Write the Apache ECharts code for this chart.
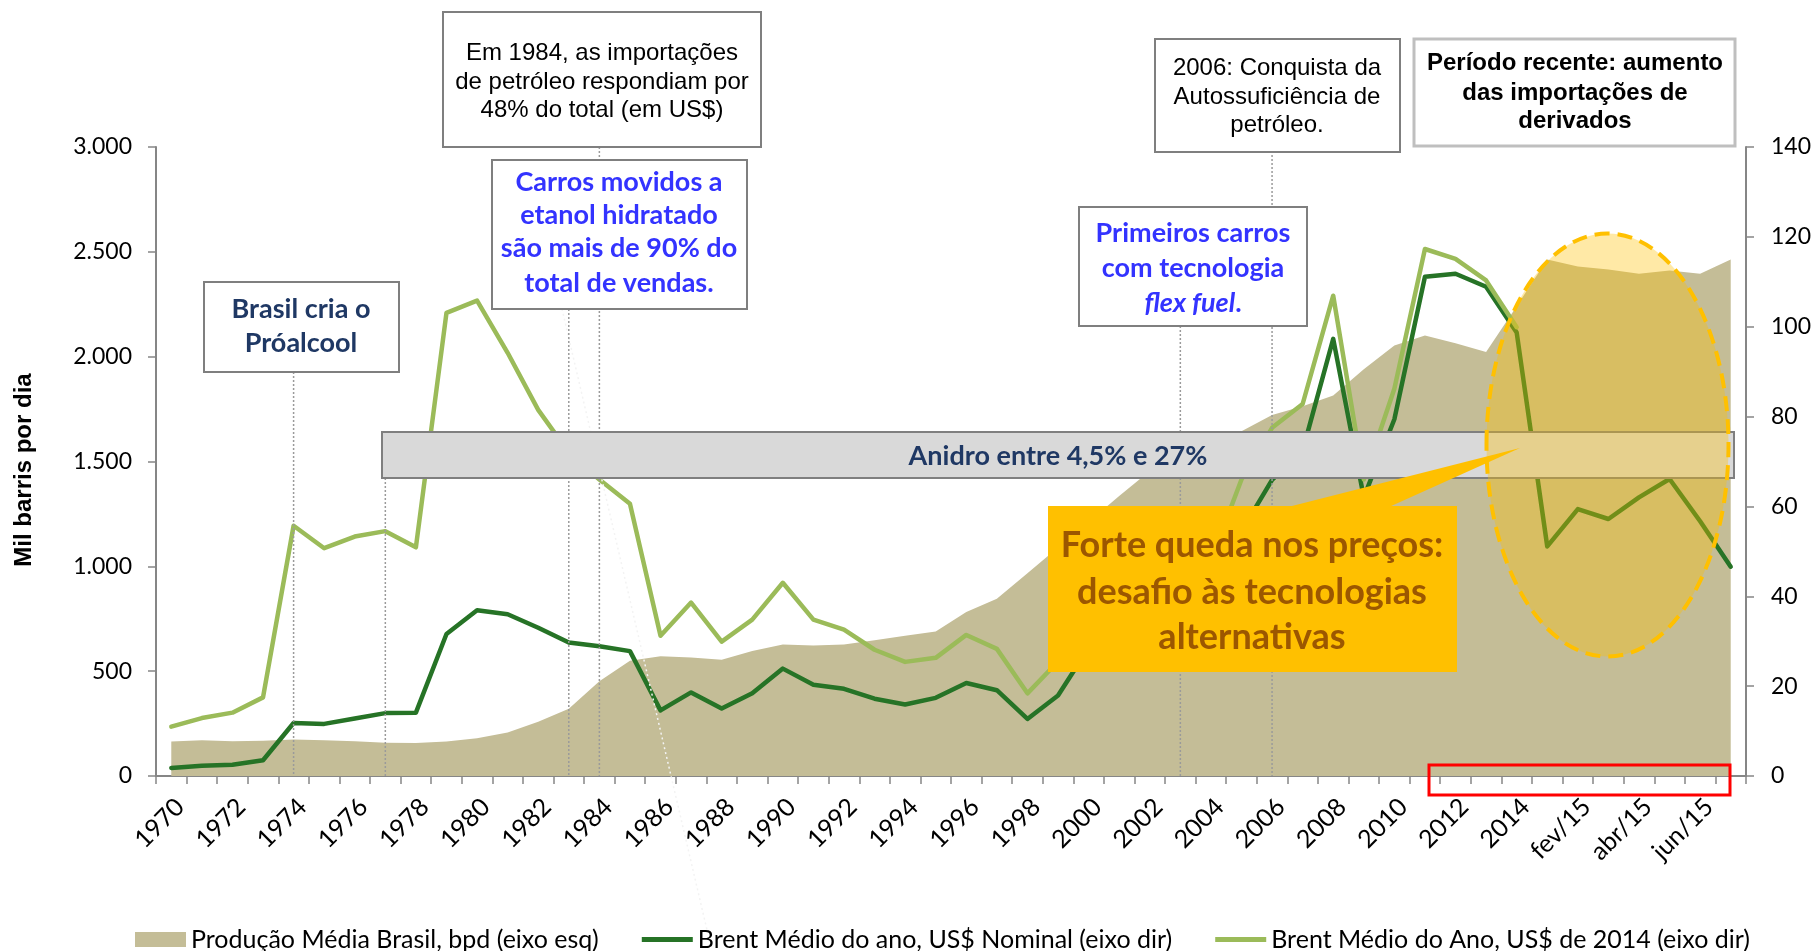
<!DOCTYPE html>
<html>
<head>
<meta charset="utf-8">
<script src="https://cdn.jsdelivr.net/npm/echarts@6/dist/echarts.min.js"></script>
<style>
  body { margin: 0; background: #fff; }
  #main { width: 1816px; height: 951px; }
</style>
</head>
<body>
<div id="main"></div>
<script>
// categories: years, then months of 2015
const categories = [
  '1970','1971','1972','1973','1974','1975','1976','1977','1978','1979',
  '1980','1981','1982','1983','1984','1985','1986','1987','1988','1989',
  '1990','1991','1992','1993','1994','1995','1996','1997','1998','1999',
  '2000','2001','2002','2003','2004','2005','2006','2007','2008','2009',
  '2010','2011','2012','2013','2014',
  'jan/15','fev/15','mar/15','abr/15','mai/15','jun/15','jul/15'
];

// Produção média Brasil, mil bpd (eixo esq)
const producao = [
  164, 170, 166, 168, 174, 170, 166, 159, 157, 164,
  180, 207, 259, 321, 452, 550, 571, 565, 555, 596,
  627, 623, 627, 648, 669, 689, 782, 845, 967, 1090,
  1212, 1335, 1455, 1540, 1540, 1644, 1722, 1764, 1815, 1940,
  2053, 2101, 2064, 2022, 2240,
  2463, 2430, 2416, 2395, 2411, 2395, 2463
];

// Brent médio, US$ nominal (eixo dir)
const brentNominal = [
  1.8, 2.3, 2.5, 3.5, 11.8, 11.6, 12.8, 14.0, 14.1, 31.6,
  36.9, 36.0, 33.0, 29.7, 28.9, 27.8, 14.6, 18.6, 15.0, 18.4,
  23.9, 20.3, 19.4, 17.2, 15.9, 17.4, 20.7, 19.1, 12.7, 17.9,
  28.5, 24.4, 25.0, 28.8, 38.3, 54.5, 65.9, 72.4, 97.3, 62.0,
  79.4, 111.1, 111.8, 108.9, 98.7,
  51.1, 59.4, 57.2, 62.0, 66.1, 56.7, 46.6
];

// Brent médio, US$ de 2014 (eixo dir)
const brent2014 = [
  11.0, 12.9, 14.1, 17.5, 55.7, 50.7, 53.3, 54.5, 50.9, 103.1,
  105.8, 94.2, 81.5, 72.0, 66.0, 60.6, 31.2, 38.6, 29.9, 34.8,
  43.0, 34.8, 32.6, 28.1, 25.4, 26.3, 31.4, 28.3, 18.4, 25.5,
  39.0, 33.0, 33.5, 37.5, 48.0, 66.0, 77.5, 82.8, 106.9, 66.0,
  86.2, 117.3, 115.1, 110.3, 99.9,
  null, null, null, null, null, null, null
];

const ARIAL = 'Liberation Sans';
const CALIBRI = 'Lato';
const AXIS_COLOR = '#868686';
const LINE_ICON = 'path://M0,0 L100,0 L100,10 L0,10 Z';

const chart = echarts.init(document.getElementById('main'));

function fmtThousands(v) {
  if (v < 1000) return String(v);
  return Math.floor(v / 1000) + '.' + String(v % 1000).padStart(3, '0');
}

chart.setOption({
  animation: false,
  backgroundColor: '#fff',
  grid: { left: 156, right: 70, top: 147, bottom: 175, containLabel: false },
  legend: {
    left: 130,
    top: 922,
    itemGap: 43,
    itemWidth: 51,
    itemHeight: 15,
    textStyle: { fontFamily: CALIBRI, fontSize: 25, color: '#000' },
    data: [
      { name: 'Produção Média Brasil, bpd (eixo esq)', icon: 'rect' },
      { name: 'Brent Médio do ano, US$ Nominal (eixo dir)', icon: LINE_ICON },
      { name: 'Brent Médio do Ano, US$ de 2014 (eixo dir)', icon: LINE_ICON }
    ]
  },
  xAxis: {
    type: 'category',
    data: categories,
    boundaryGap: true,
    axisLine: { lineStyle: { color: AXIS_COLOR, width: 2 } },
    axisTick: { show: true, interval: 0, length: 8, lineStyle: { color: AXIS_COLOR, width: 1.5 } },
    axisLabel: {
      interval: 1, rotate: 45, margin: 18, hideOverlap: false, verticalAlign: 'top',
      fontFamily: CALIBRI, fontSize: 25, color: '#000'
    },
    splitLine: { show: false }
  },
  yAxis: [
    {
      type: 'value', min: 0, max: 3000, interval: 500, position: 'left',
      axisLine: { show: true, lineStyle: { color: AXIS_COLOR, width: 2 } },
      axisTick: { show: true, length: 8, lineStyle: { color: AXIS_COLOR, width: 1.5 } },
      axisLabel: { margin: 24, fontFamily: CALIBRI, fontSize: 23, color: '#000', formatter: fmtThousands },
      splitLine: { show: false }
    },
    {
      type: 'value', min: 0, max: 140, interval: 20, position: 'right',
      axisLine: { show: true, lineStyle: { color: AXIS_COLOR, width: 2 } },
      axisTick: { show: true, length: 8, lineStyle: { color: AXIS_COLOR, width: 1.5 } },
      axisLabel: { margin: 25, fontFamily: CALIBRI, fontSize: 23, color: '#000' },
      splitLine: { show: false }
    }
  ],
  series: [
    {
      name: 'Produção Média Brasil, bpd (eixo esq)',
      type: 'line', yAxisIndex: 0, data: producao,
      symbol: 'none', z: 1,
      lineStyle: { width: 0, color: '#c4bd97' },
      itemStyle: { color: '#c4bd97' },
      areaStyle: { color: '#c4bd97', opacity: 1 }
    },
    {
      name: 'Brent Médio do ano, US$ Nominal (eixo dir)',
      type: 'line', yAxisIndex: 1, data: brentNominal,
      symbol: 'none', z: 3,
      lineStyle: { width: 4.5, color: '#267326', cap: 'round', join: 'round' },
      itemStyle: { color: '#267326' }
    },
    {
      name: 'Brent Médio do Ano, US$ de 2014 (eixo dir)',
      type: 'line', yAxisIndex: 1, data: brent2014,
      symbol: 'none', z: 3,
      lineStyle: { width: 4.5, color: '#9bbb59', cap: 'round', join: 'round' },
      itemStyle: { color: '#9bbb59' }
    }
  ]
});

// annotation layer, placed against the category positions
const cx = c => chart.convertToPixel({ xAxisIndex: 0 }, c);
const yBase = chart.convertToPixel({ yAxisIndex: 0 }, 0);

function vline(x, y1, y2, color) {
  return {
    type: 'line', z: 5, silent: true,
    shape: { x1: x, y1: y1, x2: x, y2: y2 },
    style: { stroke: color || '#9a9a9a', lineWidth: 1.5, lineDash: [2, 2] }
  };
}
function box(x, y, w, h, stroke, lw) {
  return {
    type: 'rect', z: 20, silent: true,
    shape: { x: x, y: y, width: w, height: h },
    style: { fill: '#fff', stroke: stroke || '#7f7f7f', lineWidth: lw || 2 }
  };
}
function lines(x, ys, texts, font, size, weight, color, rich) {
  return texts.map((t, i) => ({
    type: 'text', z: 21, silent: true, x: x, y: ys[i],
    style: {
      text: t, fill: color, fontFamily: font, fontSize: size, fontWeight: weight,
      align: 'center', verticalAlign: 'middle', rich: rich
    }
  }));
}

const NAVY = '#1f3864';
const BLUE = '#3333ff';

const graphics = [
  // faint diagonal dotted line
  { type: 'line', z: 4, silent: true, shape: { x1: 562, y1: 309, x2: 707, y2: 930 },
    style: { stroke: '#f3f3f3', lineWidth: 1.5, lineDash: [2, 3] } },
  vline(cx('1974'), 372, yBase),
  vline(cx('1977'), 478, yBase),
  vline(cx('1983'), 309, yBase),
  vline(cx('1984'), 147, yBase),
  vline(cx('2003'), 326, yBase),
  vline(cx('2006'), 151, yBase),

  // Anidro band
  { type: 'rect', z: 10, silent: true, shape: { x: 382, y: 432, width: 1352, height: 46 },
    style: { fill: '#d9d9d9', stroke: '#7f7f7f', lineWidth: 2 } },
  ...lines(1058, [456], ['Anidro entre 4,5% e 27%'], CALIBRI, 27, 'bold', NAVY),

  // orange callout
  { type: 'polygon', z: 11, silent: true, shape: { points: [[1288, 507], [1389, 507], [1520, 448]] },
    style: { fill: '#ffc000' } },
  { type: 'rect', z: 11, silent: true, shape: { x: 1048, y: 506, width: 409, height: 166 },
    style: { fill: '#ffc000' } },
  ...lines(1252, [545, 592, 637],
    ['Forte queda nos preços:', 'desafio às tecnologias', 'alternativas'],
    CALIBRI, 36, 'bold', '#9c5700').map(e => Object.assign(e, { z: 12 })),

  // ellipse highlighting the recent period
  { type: 'ellipse', z: 13, silent: true, shape: { cx: 1607.5, cy: 445, rx: 121, ry: 211.5 },
    style: { fill: 'rgba(255,192,0,0.35)', stroke: '#ffc000', lineWidth: 4, lineDash: [15, 8] } },

  // text boxes
  box(443, 12, 318, 135),
  ...lines(602, [53, 82, 110],
    ['Em 1984, as importações', 'de petróleo respondiam por', '48% do total (em US$)'],
    ARIAL, 24, 'normal', '#000'),

  box(492, 160, 255, 149),
  ...lines(619, [182, 215, 248, 283],
    ['Carros movidos a', 'etanol hidratado', 'são mais de 90% do', 'total de vendas.'],
    CALIBRI, 27, 'bold', BLUE),

  box(204, 282, 195, 90),
  ...lines(301, [309, 343], ['Brasil cria o', 'Próalcool'], CALIBRI, 27, 'bold', NAVY),

  box(1079, 207, 228, 119),
  ...lines(1193, [233, 268], ['Primeiros carros', 'com tecnologia'], CALIBRI, 27, 'bold', BLUE),
  ...lines(1193, [303], ['{i|flex fuel}.'], CALIBRI, 27, 'bold', BLUE,
    { i: { fontStyle: 'italic', fontWeight: 'bold', fontFamily: CALIBRI, fontSize: 27, fill: BLUE } }),

  box(1155, 39, 245, 113),
  ...lines(1277, [68, 97, 125],
    ['2006: Conquista da', 'Autossuficiência de', 'petróleo.'],
    ARIAL, 24, 'normal', '#000'),

  box(1414, 39, 321, 107, '#bfbfbf', 3),
  ...lines(1575, [63, 93, 121],
    ['Período recente: aumento', 'das importações de', 'derivados'],
    ARIAL, 24, 'bold', '#000'),

  // red frame around the monthly ticks
  { type: 'rect', z: 30, silent: true, shape: { x: 1429, y: 765, width: 301, height: 30 },
    style: { fill: 'none', stroke: '#ff0000', lineWidth: 3 } },

  // left axis title
  { type: 'text', z: 21, silent: true, x: 24, y: 470, rotation: Math.PI / 2,
    style: { text: 'Mil barris por dia', fill: '#000', fontFamily: ARIAL, fontSize: 24,
      fontWeight: 'bold', align: 'center', verticalAlign: 'middle' } }
];

chart.setOption({ graphic: graphics });
</script>
</body>
</html>
